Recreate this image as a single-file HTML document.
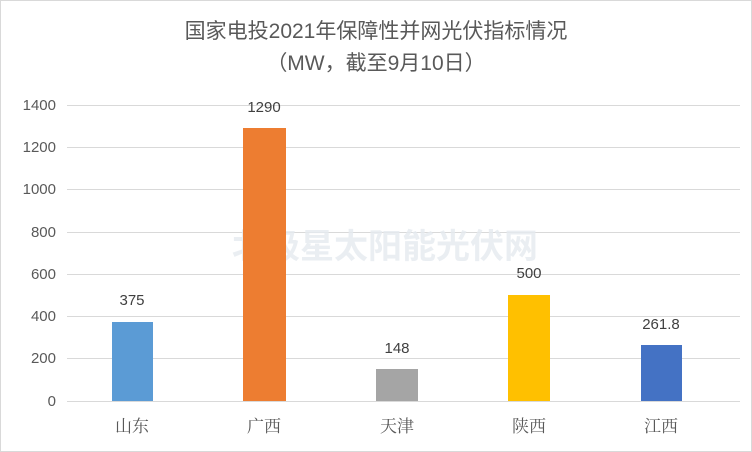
<!DOCTYPE html>
<html><head><meta charset="utf-8"><style>
body{margin:0;background:#fff;}
svg{display:block;font-family:"Liberation Sans","Noto Sans CJK SC",sans-serif;}
</style></head><body>
<svg width="752" height="452" viewBox="0 0 752 452">
<rect x="0.5" y="0.5" width="751" height="451" fill="#fff" stroke="#d9d9d9"/>
<text x="376" y="38" text-anchor="middle" font-size="21" fill="#595959">国家电投2021年保障性并网光伏指标情况</text>
<text x="376" y="70" text-anchor="middle" font-size="21" fill="#595959">（MW，截至9月10日）</text>
<g stroke="#d9d9d9" stroke-width="1">
<line x1="67" x2="740" y1="105.5" y2="105.5"/>
<line x1="67" x2="740" y1="147.5" y2="147.5"/>
<line x1="67" x2="740" y1="189.5" y2="189.5"/>
<line x1="67" x2="740" y1="232.5" y2="232.5"/>
<line x1="67" x2="740" y1="274.5" y2="274.5"/>
<line x1="67" x2="740" y1="316.5" y2="316.5"/>
<line x1="67" x2="740" y1="358.5" y2="358.5"/>
<line x1="67" x2="740" y1="401.5" y2="401.5"/>
</g>
<g font-size="15" fill="#595959" text-anchor="end">
<text x="56" y="110">1400</text><text x="56" y="152">1200</text><text x="56" y="194">1000</text>
<text x="56" y="237">800</text><text x="56" y="279">600</text><text x="56" y="321">400</text>
<text x="56" y="363">200</text><text x="56" y="406">0</text>
</g>
<text x="385" y="258" text-anchor="middle" font-size="34" font-weight="bold" fill="#e6ebf0" opacity="0.8">北极星太阳能光伏网</text>
<rect x="112" y="322" width="41" height="79" fill="#5b9bd5"/>
<rect x="243" y="128" width="43" height="273" fill="#ed7d31"/>
<rect x="376" y="369" width="42" height="32" fill="#a5a5a5"/>
<rect x="508" y="295" width="42" height="106" fill="#ffc000"/>
<rect x="641" y="345" width="41" height="56" fill="#4472c4"/>
<g font-size="15" fill="#404040" text-anchor="middle">
<text x="132" y="305">375</text><text x="264" y="112">1290</text><text x="397" y="353">148</text>
<text x="529" y="278">500</text><text x="661" y="329">261.8</text>
</g>
<g font-size="17" fill="#595959" text-anchor="middle" font-family="'Noto Serif CJK SC',serif">
<text x="132" y="432">山东</text><text x="264" y="432">广西</text><text x="397" y="432">天津</text>
<text x="529" y="432">陕西</text><text x="661" y="432">江西</text>
</g>
</svg>
</body></html>
